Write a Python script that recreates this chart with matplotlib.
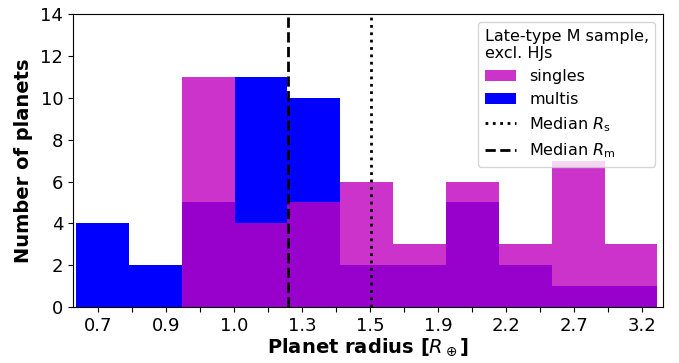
import numpy as np
import matplotlib.pyplot as plt

# histogram counts per radius bin (log-spaced bins)
singles = [0, 0, 11, 4, 5, 6, 3, 6, 3, 7, 3]
multis = [4, 2, 5, 11, 10, 2, 2, 5, 2, 1, 1]
r_min, r_max = 0.658, 3.34
median_s = 1.50
median_m = 1.19
tick_labels = ['0.7', '0.9', '1.0', '1.3', '1.5', '1.9', '2.2', '2.7', '3.2']

edges = np.linspace(np.log10(r_min), np.log10(r_max), len(singles) + 1)
ticks = np.linspace(np.log10(0.7), np.log10(3.2), 2 * len(tick_labels) - 1)
labels = []
for i in range(len(ticks)):
    labels.append(tick_labels[i // 2] if i % 2 == 0 else '')

fig = plt.figure(figsize=(6.79, 3.63), dpi=100)
ax = fig.add_axes([0.1075, 0.154, 0.869, 0.807])

ax.stairs(multis, edges, fill=True, color='b', label='multis')
ax.stairs(singles, edges, fill=True, color='m', alpha=0.8, label='singles')
ax.axvline(np.log10(median_s), color='k', ls=':', lw=2, label='Median $R_\\mathrm{s}$')
ax.axvline(np.log10(median_m), color='k', ls='--', lw=2, label='Median $R_\\mathrm{m}$')

ax.set_xlim(-0.1853, 0.5305)
ax.set_ylim(0, 14)
ax.set_xticks(ticks)
ax.set_xticklabels(labels)
ax.set_yticks(range(0, 15, 2))
ax.tick_params(labelsize=13)
ax.set_xlabel('Planet radius [$R_\\oplus$]', fontsize=14, fontweight='bold', labelpad=1)
ax.set_ylabel('Number of planets', fontsize=14, fontweight='bold', labelpad=5)

h, l = ax.get_legend_handles_labels()
order = [1, 0, 2, 3]
leg = ax.legend([h[i] for i in order], [l[i] for i in order], loc='upper right',
                title='Late-type M sample,\nexcl. HJs', fontsize=11.5, title_fontsize=11.5)
leg._legend_box.align = 'left'

fig.savefig('out.png', dpi=100)
